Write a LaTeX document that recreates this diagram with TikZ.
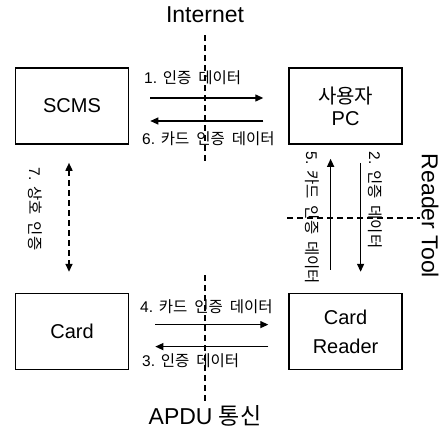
\documentclass[tikz,border=0pt]{standalone}
\usepackage{fontspec}
\setmainfont{Liberation Sans}
\newfontfamily\kr{Noto Sans CJK KR}[WordSpace=2]
\usetikzlibrary{positioning,arrows.meta}

\begin{document}
\begin{tikzpicture}[
  x=1pt, y=-1pt,
  node distance=148pt and 159pt,
  box/.style={draw, line width=1.6pt, align=center, minimum width=113pt,
              minimum height=76pt, font=\fontsize{20}{22}\selectfont},
  arrow/.style={-{Triangle[length=8pt,width=7pt]}, line width=1.3pt},
  both/.style={{Triangle[length=8pt,width=7pt]}-{Triangle[length=8pt,width=7pt]}},
  lbl/.style={font=\fontsize{15.5}{17}\selectfont, inner sep=0pt},
  zone/.style={font=\fontsize{23}{26}\selectfont, inner sep=0pt},
  divider/.style={dash pattern=on 6pt off 4pt, line width=1.6pt}
]
\useasboundingbox (0,0) rectangle (447,433);

% boxes
\node[box] (scms) at (72,106) {SCMS};
\node[box, right=of scms] (pc) {{\kr 사용자}\\PC};
\node[box, below=of scms] (card) {Card};
\node[box, below=of pc] (reader) {Card\\[7pt]Reader};

% zones
\node[zone] (inet) at (205,15) {Internet};
\node[zone] (apdu) at (205,416) {APDU {\kr 통신}};
\node[zone, rotate=-90] (rtool) at (430,216) {Reader Tool};
\coordinate (inetend) at (205,165);
\coordinate (apdutop) at (205,275);
\coordinate (rtstart) at (287,218);
\coordinate (rtend) at (420,218);
\draw[divider, shorten <=12pt] (inet.south) -- (inetend);
\draw[divider, shorten >=3pt] (apdutop) -- (apdu.north);
\draw[divider] (rtstart) -- (rtend);

% messages
\draw[arrow, shorten <=21pt, shorten >=25pt] ([yshift=8pt]scms.east) -- ([yshift=8pt]pc.west);
\draw[arrow, shorten <=25pt, shorten >=21pt] ([yshift=-15pt]pc.west) -- ([yshift=-15pt]scms.east);
\draw[arrow, shorten <=26pt, shorten >=20pt] ([yshift=7pt]card.east) -- ([yshift=7pt]reader.west);
\draw[arrow, shorten <=20pt, shorten >=26pt] ([yshift=-15pt]reader.west) -- ([yshift=-15pt]card.east);
\draw[arrow, shorten <=18pt, shorten >=21pt] ([xshift=15pt]pc.south) -- ([xshift=15pt]reader.north);
\draw[arrow, shorten <=23pt, shorten >=14pt] ([xshift=-15pt]reader.north) -- ([xshift=-15pt]pc.south);
\draw[arrow, both, divider, shorten <=18pt, shorten >=21pt] ([xshift=-3pt]scms.south) -- ([xshift=-3pt]card.north);

\node[lbl, anchor=west] (m1) at (144,78) {1. {\kr 인증 데이터}};
\node[lbl, anchor=west] (m6) at (142,139) {6. {\kr 카드 인증 데이터}};
\node[lbl, anchor=west] (m4) at (140,307) {4. {\kr 카드 인증 데이터}};
\node[lbl, anchor=west] (m3) at (142,361) {3. {\kr 인증 데이터}};
\node[lbl, rotate=-90] (m5) at (312,218) {5. {\kr 카드 인증 데이터}};
\node[lbl, rotate=-90] (m2) at (375,200) {2. {\kr 인증 데이터}};
\node[lbl, rotate=-90] (m7) at (35,209) {7. {\kr 상호 인증}};
\end{tikzpicture}
\end{document}
